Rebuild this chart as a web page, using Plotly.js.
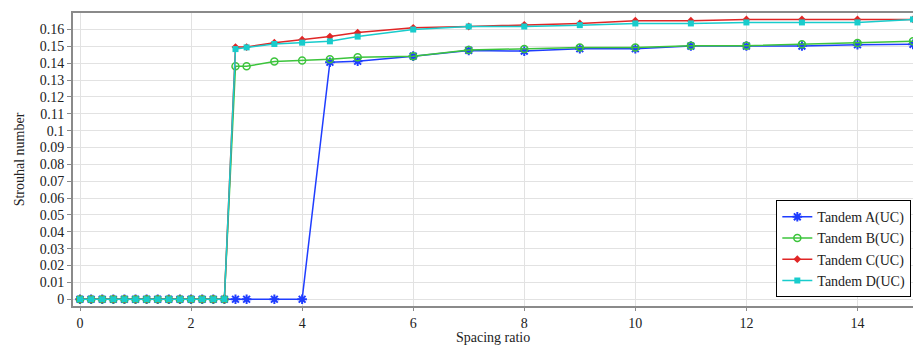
<!DOCTYPE html>
<html>
<head>
<meta charset="utf-8">
<script src="https://cdn.plot.ly/plotly-3.0.1.min.js"></script>
<style>html,body{margin:0;padding:0;background:#fff}#chart{width:913px;height:347px}</style>
</head>
<body>
<div id="chart"></div>
<script>
const xZero = [0, 0.2, 0.4, 0.6, 0.8, 1.0, 1.2, 1.4, 1.6, 1.8, 2.0, 2.2, 2.4, 2.6];
const xHigh = [2.8, 3, 3.5, 4, 4.5, 5, 6, 7, 8, 9, 10, 11, 12, 13, 14, 15];
const xAll = xZero.concat(xHigh);
const zeros = [0, 0, 0, 0, 0, 0, 0, 0, 0, 0, 0, 0, 0, 0];

const stA = [0, 0, 0, 0, 0.1406, 0.1412, 0.1442, 0.1476, 0.1472, 0.1486, 0.1486, 0.1502, 0.1502, 0.1502, 0.1510, 0.1512];
const stB = [0.1382, 0.1382, 0.1410, 0.1416, 0.1424, 0.1436, 0.1442, 0.1478, 0.1484, 0.1494, 0.1494, 0.1504, 0.1504, 0.1512, 0.1520, 0.1530];
const stC = [0.1496, 0.1496, 0.1522, 0.1540, 0.1558, 0.1582, 0.1610, 0.1618, 0.1628, 0.1636, 0.1652, 0.1652, 0.1660, 0.1660, 0.1660, 0.1660];
const stD = [0.1484, 0.1494, 0.1514, 0.1522, 0.1530, 0.1558, 0.1600, 0.1618, 0.1618, 0.1626, 0.1636, 0.1636, 0.1642, 0.1642, 0.1642, 0.1660];

const names = ['Tandem A(UC)', 'Tandem B(UC)', 'Tandem C(UC)', 'Tandem D(UC)'];
const colors = ['#1f3dff', '#3cc43c', '#e02626', '#18cccc'];
const xTitle = 'Spacing ratio';
const yTitle = 'Strouhal number';

const traces = [
  {x: xAll, y: zeros.concat(stA), name: names[0], mode: 'lines+markers',
   line: {color: colors[0], width: 1.5},
   marker: {symbol: 'asterisk-open', size: 8, color: colors[0], line: {color: colors[0], width: 2}}},
  {x: xAll, y: zeros.concat(stB), name: names[1], mode: 'lines+markers',
   line: {color: colors[1], width: 1.5},
   marker: {symbol: 'circle-open', size: 7, color: colors[1], line: {color: colors[1], width: 1.5}}},
  {x: xAll, y: zeros.concat(stC), name: names[2], mode: 'lines+markers',
   line: {color: colors[2], width: 1.5},
   marker: {symbol: 'diamond', size: 6, color: colors[2]}},
  {x: xAll, y: zeros.concat(stD), name: names[3], mode: 'lines+markers',
   line: {color: colors[3], width: 1.5},
   marker: {symbol: 'square', size: 6, color: colors[3]}}
];

const font = 'Liberation Serif, Times New Roman, serif';
const layout = {
  width: 913, height: 347,
  margin: {l: 73, r: 0, t: 13, b: 41},
  paper_bgcolor: '#ffffff', plot_bgcolor: '#ffffff',
  font: {family: font, size: 14, color: '#222'},
  showlegend: true,
  legend: {x: 0.998, xanchor: 'right', y: 0.03, yanchor: 'bottom',
    bordercolor: '#000', borderwidth: 1, bgcolor: '#fff',
    font: {family: font, size: 14, color: '#222'}, tracegroupgap: 0, itemwidth: 30},
  xaxis: {
    range: [-0.126, 15.0], dtick: 2, tick0: 0,
    showline: true, linecolor: '#8a8a8a', linewidth: 2, mirror: true,
    ticks: 'outside', ticklen: 3, tickcolor: '#8a8a8a',
    showgrid: true, gridcolor: '#e2e2e2', gridwidth: 1, zeroline: false,
    tickfont: {family: font, size: 14, color: '#222'}
  },
  yaxis: {
    range: [-0.004, 0.1698], dtick: 0.01, tick0: 0, tickformat: '~g',
    showline: true, linecolor: '#8a8a8a', linewidth: 2, mirror: true,
    ticks: 'outside', ticklen: 4, tickcolor: '#8a8a8a',
    showgrid: true, gridcolor: '#e2e2e2', gridwidth: 1, zeroline: false,
    tickfont: {family: font, size: 14, color: '#222'},
    title: {text: yTitle, font: {family: font, size: 14, color: '#222'}, standoff: 12}
  },
  annotations: [
    {text: xTitle, xref: 'paper', yref: 'paper', x: 0.5, y: -0.108,
     xanchor: 'center', yanchor: 'middle', showarrow: false,
     font: {family: font, size: 14, color: '#222'}}
  ]
};

Plotly.newPlot('chart', traces, layout, {displayModeBar: false, staticPlot: true});
</script>
</body>
</html>
